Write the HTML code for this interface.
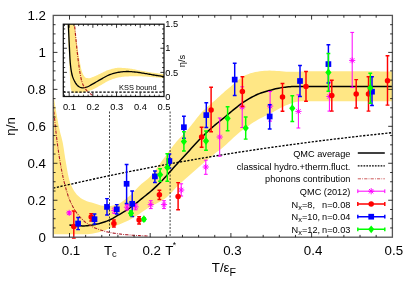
<!DOCTYPE html>
<html><head><meta charset="utf-8"><title>viscosity</title>
<style>html,body{margin:0;padding:0;background:#fff;overflow:hidden}svg{display:block;will-change:transform;opacity:0.999}</style></head>
<body>
<svg width="415" height="291" viewBox="0 0 415 291" font-family="Liberation Sans, sans-serif">
<rect width="415" height="291" fill="#fff"/>
<defs><clipPath id="cm"><rect x="53.25" y="15.40" width="339.15" height="221.80"/></clipPath>
<clipPath id="ci"><rect x="63.30" y="24.20" width="100.70" height="72.30"/></clipPath></defs>
<g clip-path="url(#cm)">
<path d="M53.25,92.00 L53.56,94.39 L53.88,96.78 L54.21,99.17 L54.56,101.56 L54.92,103.94 L55.28,106.33 L55.66,108.71 L56.05,111.08 L56.44,113.46 L56.85,115.84 L57.27,118.21 L57.71,120.59 L58.16,122.96 L58.62,125.32 L59.11,127.68 L59.61,130.04 L60.17,132.39 L60.78,134.72 L61.41,137.05 L62.01,139.39 L62.55,141.73 L63.00,144.10 L63.40,146.47 L63.78,148.85 L64.14,151.24 L64.49,153.63 L64.85,156.01 L65.22,158.40 L65.63,160.77 L66.04,163.16 L66.44,165.56 L66.84,167.96 L67.25,170.36 L67.69,172.75 L68.17,175.12 L68.69,177.46 L69.28,179.75 L69.96,182.01 L70.78,184.30 L71.76,186.58 L72.87,188.80 L74.11,190.91 L75.43,192.86 L76.89,194.64 L78.63,196.35 L80.58,197.92 L82.64,199.27 L84.72,200.33 L86.92,201.18 L89.23,201.90 L91.60,202.56 L93.96,203.20 L96.28,203.91 L98.59,204.71 L100.92,205.39 L103.27,205.71 L105.67,205.81 L108.10,205.88 L110.50,205.90 L112.89,205.58 L115.24,204.97 L117.52,204.20 L119.72,203.17 L121.79,201.98 L123.76,200.57 L125.66,199.06 L127.55,197.57 L129.41,196.02 L131.20,194.41 L132.90,192.71 L134.54,190.94 L136.16,189.14 L137.81,187.38 L139.53,185.70 L141.35,184.12 L143.25,182.60 L145.17,181.11 L147.04,179.58 L148.82,177.98 L150.46,176.27 L152.03,174.48 L153.53,172.62 L155.00,170.70 L156.42,168.74 L157.83,166.76 L159.22,164.77 L160.62,162.78 L162.02,160.80 L163.46,158.86 L164.89,156.92 L166.31,154.97 L167.74,153.03 L169.18,151.09 L170.63,149.17 L172.08,147.24 L173.54,145.32 L175.03,143.42 L176.57,141.57 L178.16,139.77 L179.81,138.01 L181.48,136.27 L183.16,134.54 L184.84,132.80 L186.48,131.03 L188.07,129.22 L189.62,127.37 L191.13,125.49 L192.62,123.58 L194.10,121.66 L195.58,119.74 L197.07,117.84 L198.59,115.96 L200.14,114.12 L201.73,112.34 L203.39,110.61 L205.12,108.96 L206.93,107.36 L208.77,105.78 L210.61,104.21 L212.42,102.62 L214.22,101.01 L216.00,99.39 L217.78,97.76 L219.57,96.13 L221.35,94.50 L223.14,92.89 L224.95,91.30 L226.77,89.72 L228.62,88.18 L230.48,86.63 L232.33,85.03 L234.19,83.38 L236.05,81.75 L237.94,80.15 L239.86,78.64 L241.82,77.26 L243.84,76.03 L245.91,75.00 L248.08,74.15 L250.35,73.37 L252.70,72.68 L255.09,72.10 L257.48,71.67 L259.85,71.37 L262.24,71.08 L264.65,70.85 L267.07,70.68 L269.48,70.60 L271.89,70.63 L274.29,70.73 L276.70,70.89 L279.11,71.08 L281.51,71.29 L283.92,71.48 L286.33,71.65 L288.74,71.76 L291.15,71.80 L293.55,71.78 L295.96,71.72 L298.37,71.65 L300.78,71.56 L303.19,71.47 L305.61,71.39 L308.02,71.33 L310.43,71.30 L312.84,71.28 L315.25,71.27 L317.66,71.25 L320.07,71.24 L322.48,71.23 L324.89,71.22 L327.30,71.21 L329.71,71.21 L332.13,71.20 L334.54,71.20 L336.95,71.20 L339.36,71.20 L341.77,71.20 L344.18,71.21 L346.59,71.21 L349.00,71.21 L351.41,71.22 L353.82,71.23 L356.24,71.24 L358.65,71.24 L361.06,71.25 L363.47,71.27 L365.88,71.28 L368.29,71.29 L370.70,71.31 L373.11,71.32 L375.52,71.34 L377.93,71.36 L380.35,71.38 L382.76,71.40 L385.17,71.42 L387.58,71.45 L389.99,71.47 L392.40,71.50 L392.40,101.20 L390.12,101.20 L387.85,101.20 L385.57,101.20 L383.30,101.20 L381.02,101.20 L378.74,101.20 L376.47,101.20 L374.19,101.20 L371.91,101.20 L369.64,101.20 L367.36,101.20 L365.09,101.20 L362.81,101.20 L360.53,101.20 L358.26,101.20 L355.98,101.20 L353.71,101.20 L351.43,101.20 L349.15,101.20 L346.88,101.20 L344.60,101.20 L342.32,101.20 L340.05,101.20 L337.77,101.20 L335.50,101.20 L333.22,101.20 L330.94,101.20 L328.67,101.20 L326.39,101.20 L324.11,101.20 L321.84,101.20 L319.56,101.20 L317.29,101.20 L315.01,101.20 L312.73,101.20 L310.46,101.20 L308.18,101.20 L305.91,101.20 L303.63,101.20 L301.35,101.26 L299.08,101.51 L296.80,101.87 L294.52,102.29 L292.25,102.90 L289.97,103.71 L287.70,104.64 L285.42,105.62 L283.14,106.65 L280.87,107.82 L278.59,109.06 L276.32,110.30 L274.04,111.49 L271.76,112.64 L269.49,113.76 L267.21,114.88 L264.93,116.01 L262.66,117.16 L260.38,118.36 L258.11,119.62 L255.83,120.96 L253.55,122.37 L251.28,123.85 L249.00,125.39 L246.72,126.99 L244.45,128.65 L242.17,130.35 L239.90,132.11 L237.62,133.95 L235.34,135.94 L233.07,138.04 L230.79,140.19 L228.52,142.35 L226.24,144.47 L223.96,146.51 L221.69,148.41 L219.41,150.16 L217.13,151.86 L214.86,153.61 L212.58,155.45 L210.31,157.32 L208.03,159.22 L205.75,161.15 L203.48,163.10 L201.20,165.07 L198.93,167.04 L196.65,169.03 L194.37,171.02 L192.10,173.02 L189.82,175.02 L187.54,177.03 L185.27,179.06 L182.99,181.12 L180.72,183.21 L178.44,185.33 L176.16,187.52 L173.89,189.91 L171.61,192.40 L169.33,194.81 L167.06,197.00 L164.78,198.80 L162.51,200.29 L160.23,201.60 L157.95,202.79 L155.68,203.93 L153.40,205.07 L151.13,206.27 L148.85,207.59 L146.57,209.03 L144.30,210.54 L142.02,212.09 L139.74,213.64 L137.47,215.16 L135.19,216.62 L132.92,217.99 L130.64,219.23 L128.36,220.39 L126.09,221.49 L123.81,222.53 L121.54,223.51 L119.26,224.42 L116.98,225.31 L114.71,226.21 L112.43,227.11 L110.15,228.02 L107.88,228.95 L105.60,229.91 L103.33,230.79 L101.05,231.55 L98.77,232.24 L96.50,232.83 L94.22,233.33 L91.94,233.76 L89.67,234.03 L87.39,234.19 L85.12,234.29 L82.84,234.30 L80.56,234.30 L78.29,234.30 L76.01,234.30 L73.74,234.30 L71.46,234.30 L69.18,234.30 L66.91,234.30 L64.63,234.30 L62.35,234.30 L60.08,234.30 L57.80,234.30 L55.53,234.30 L53.25,234.30Z" fill="#ffe785"/>
<path d="M69.40,225.00 L71.02,225.24 L72.65,225.46 L74.27,225.63 L75.89,225.76 L77.52,225.81 L79.14,225.85 L80.76,225.87 L82.38,225.89 L84.01,225.90 L85.63,225.85 L87.25,225.70 L88.88,225.50 L90.50,225.27 L92.12,225.03 L93.75,224.75 L95.37,224.42 L96.99,224.06 L98.62,223.68 L100.24,223.24 L101.86,222.76 L103.49,222.24 L105.11,221.69 L106.73,221.10 L108.35,220.46 L109.98,219.76 L111.60,219.00 L113.22,218.12 L114.85,217.14 L116.47,216.15 L118.09,215.21 L119.72,214.28 L121.34,213.36 L122.96,212.41 L124.59,211.43 L126.21,210.40 L127.83,209.31 L129.46,208.17 L131.08,206.99 L132.70,205.78 L134.32,204.56 L135.95,203.32 L137.57,202.05 L139.19,200.75 L140.82,199.44 L142.44,198.11 L144.06,196.79 L145.69,195.47 L147.31,194.15 L148.93,192.82 L150.56,191.46 L152.18,190.06 L153.80,188.61 L155.43,187.12 L157.05,185.60 L158.67,184.03 L160.29,182.43 L161.92,180.78 L163.54,179.06 L165.16,177.27 L166.79,175.44 L168.41,173.58 L170.03,171.72 L171.66,169.88 L173.28,168.08 L174.90,166.31 L176.53,164.56 L178.15,162.81 L179.77,161.07 L181.39,159.33 L183.02,157.58 L184.64,155.82 L186.26,154.05 L187.89,152.26 L189.51,150.44 L191.13,148.62 L192.76,146.81 L194.38,145.01 L196.00,143.24 L197.63,141.51 L199.25,139.83 L200.87,138.18 L202.50,136.55 L204.12,134.94 L205.74,133.35 L207.36,131.80 L208.99,130.28 L210.61,128.80 L212.23,127.35 L213.86,125.95 L215.48,124.60 L217.10,123.27 L218.73,121.96 L220.35,120.66 L221.97,119.36 L223.60,118.05 L225.22,116.72 L226.84,115.37 L228.47,114.01 L230.09,112.65 L231.71,111.29 L233.33,109.95 L234.96,108.63 L236.58,107.31 L238.20,105.99 L239.83,104.70 L241.45,103.51 L243.07,102.43 L244.70,101.38 L246.32,100.37 L247.94,99.38 L249.57,98.42 L251.19,97.50 L252.81,96.63 L254.44,95.80 L256.06,95.02 L257.68,94.30 L259.30,93.64 L260.93,93.03 L262.55,92.48 L264.17,91.97 L265.80,91.48 L267.42,91.02 L269.04,90.57 L270.67,90.11 L272.29,89.66 L273.91,89.23 L275.54,88.83 L277.16,88.49 L278.78,88.17 L280.41,87.87 L282.03,87.61 L283.65,87.37 L285.27,87.17 L286.90,86.98 L288.52,86.81 L290.14,86.66 L291.77,86.55 L293.39,86.49 L295.01,86.46 L296.64,86.43 L298.26,86.41 L299.88,86.40 L301.51,86.40 L303.13,86.40 L304.75,86.40 L306.37,86.40 L308.00,86.40 L309.62,86.40 L311.24,86.40 L312.87,86.40 L314.49,86.40 L316.11,86.40 L317.74,86.40 L319.36,86.40 L320.98,86.40 L322.61,86.40 L324.23,86.40 L325.85,86.40 L327.48,86.40 L329.10,86.40 L330.72,86.40 L332.34,86.40 L333.97,86.40 L335.59,86.40 L337.21,86.40 L338.84,86.40 L340.46,86.40 L342.08,86.40 L343.71,86.40 L345.33,86.40 L346.95,86.40 L348.58,86.40 L350.20,86.40 L351.82,86.40 L353.45,86.40 L355.07,86.40 L356.69,86.40 L358.31,86.40 L359.94,86.40 L361.56,86.40 L363.18,86.40 L364.81,86.40 L366.43,86.40 L368.05,86.40 L369.68,86.40 L371.30,86.40 L372.92,86.40 L374.55,86.40 L376.17,86.40 L377.79,86.40 L379.42,86.40 L381.04,86.40 L382.66,86.40 L384.28,86.40 L385.91,86.40 L387.53,86.40 L389.15,86.40 L390.78,86.40 L392.40,86.40" fill="none" stroke="#000" stroke-width="1.5"/>
<path d="M53.25,188.21 L57.54,187.20 L61.84,186.20 L66.13,185.21 L70.42,184.23 L74.72,183.26 L79.01,182.29 L83.30,181.34 L87.59,180.39 L91.89,179.45 L96.18,178.52 L100.47,177.60 L104.77,176.69 L109.06,175.78 L113.35,174.89 L117.65,174.00 L121.94,173.12 L126.23,172.25 L130.52,171.39 L134.82,170.53 L139.11,169.69 L143.40,168.85 L147.70,168.02 L151.99,167.20 L156.28,166.38 L160.58,165.58 L164.87,164.78 L169.16,163.99 L173.46,163.21 L177.75,162.43 L182.04,161.66 L186.33,160.91 L190.63,160.15 L194.92,159.41 L199.21,158.67 L203.51,157.95 L207.80,157.22 L212.09,156.51 L216.39,155.80 L220.68,155.10 L224.97,154.41 L229.26,153.73 L233.56,153.05 L237.85,152.38 L242.14,151.72 L246.44,151.06 L250.73,150.41 L255.02,149.77 L259.32,149.14 L263.61,148.51 L267.90,147.89 L272.19,147.27 L276.49,146.66 L280.78,146.06 L285.07,145.47 L289.37,144.88 L293.66,144.30 L297.95,143.73 L302.25,143.16 L306.54,142.60 L310.83,142.04 L315.13,141.49 L319.42,140.95 L323.71,140.42 L328.00,139.89 L332.30,139.36 L336.59,138.85 L340.88,138.33 L345.18,137.83 L349.47,137.33 L353.76,136.84 L358.06,136.35 L362.35,135.87 L366.64,135.39 L370.93,134.93 L375.23,134.46 L379.52,134.00 L383.81,133.55 L388.11,133.10 L392.40,132.66" fill="none" stroke="#000" stroke-width="1.35" stroke-dasharray="2.2,1.5"/>
<path d="M51.75,85.96 L52.56,96.45 L53.37,106.10 L54.19,114.98 L55.00,123.16 L55.81,130.70 L56.63,137.66 L57.44,144.09 L58.26,150.04 L59.07,155.54 L59.88,160.64 L60.70,165.37 L61.51,169.76 L62.33,173.83 L63.14,177.62 L63.95,181.15 L64.77,184.43 L65.58,187.48 L66.39,190.33 L67.21,192.99 L68.02,195.48 L68.84,197.80 L69.65,199.97 L70.46,201.82 L71.28,203.57 L72.09,205.21 L72.90,206.76 L73.72,208.22 L74.53,209.59 L75.35,210.89 L76.16,212.12 L76.97,213.28 L77.79,214.37 L78.60,215.41 L79.41,216.39 L80.23,217.32 L81.04,218.19 L81.86,219.03 L82.67,219.82 L83.48,220.56 L84.30,221.28 L85.11,221.95 L85.92,222.59 L86.74,223.20 L87.55,223.78 L88.37,224.33 L89.18,224.85 L89.99,225.35 L90.81,225.82 L91.62,226.28 L92.44,226.71 L93.25,227.12 L94.06,227.51 L94.88,227.88 L95.69,228.24 L96.50,228.58 L97.32,228.90 L98.13,229.21 L98.95,229.51 L99.76,229.79 L100.57,230.06 L101.39,230.32 L102.20,230.57 L103.01,230.81 L103.83,231.04 L104.64,231.25 L105.46,231.46 L106.27,231.66 L107.08,231.85 L107.90,232.04 L108.71,232.21 L109.52,232.38 L110.34,232.54 L111.15,232.70 L111.97,232.85 L112.78,232.99 L113.59,233.13 L114.41,233.26 L115.22,233.39 L116.03,233.51 L116.85,233.63 L117.66,233.75 L118.48,233.85 L119.29,233.96 L120.10,234.06 L120.92,234.16 L121.73,234.25 L122.54,234.34 L123.36,234.43 L124.17,234.51 L124.99,234.59 L125.80,234.67 L126.61,234.75 L127.43,234.82 L128.24,234.89 L129.06,234.96 L129.87,235.02 L130.68,235.09 L131.50,235.15 L132.31,235.21 L133.12,235.26 L133.94,235.32 L134.75,235.37 L135.57,235.42 L136.38,235.47 L137.19,235.52 L138.01,235.56 L138.82,235.61 L139.63,235.65 L140.45,235.69 L141.26,235.73 L142.08,235.77 L142.89,235.81 L143.70,235.85 L144.52,235.88 L145.33,235.92 L146.14,235.95 L146.96,235.98 L147.77,236.02 L148.59,236.05" fill="none" stroke="#ac1c28" stroke-width="1.1" stroke-dasharray="3.2,1.2,0.8,1.2"/>
</g>
<path d="M109.5,111.5V237 M170.1,111.5V237" stroke="#111" stroke-width="0.8" stroke-dasharray="2,1.5" fill="none"/>
<g>
<path d="M69.20,211.60V214.20 M67.30,211.60H71.10 M67.30,214.20H71.10" stroke="#ff00ff" stroke-width="1.00" fill="none"/>
<path d="M69.20,209.80V216.00 M66.10,212.90H72.30 M67.01,210.71L71.39,215.09 M67.01,215.09L71.39,210.71" stroke="#ff00ff" stroke-width="0.95" fill="none"/>
<path d="M114.40,208.00V213.50 M112.50,208.00H116.30 M112.50,213.50H116.30" stroke="#ff00ff" stroke-width="1.00" fill="none"/>
<path d="M114.40,207.50V213.70 M111.30,210.60H117.50 M112.21,208.41L116.59,212.79 M112.21,212.79L116.59,208.41" stroke="#ff00ff" stroke-width="0.95" fill="none"/>
<path d="M127.00,204.50V210.00 M125.10,204.50H128.90 M125.10,210.00H128.90" stroke="#ff00ff" stroke-width="1.00" fill="none"/>
<path d="M127.00,204.10V210.30 M123.90,207.20H130.10 M124.81,205.01L129.19,209.39 M124.81,209.39L129.19,205.01" stroke="#ff00ff" stroke-width="0.95" fill="none"/>
<path d="M135.60,204.00V209.80 M133.70,204.00H137.50 M133.70,209.80H137.50" stroke="#ff00ff" stroke-width="1.00" fill="none"/>
<path d="M135.60,203.80V210.00 M132.50,206.90H138.70 M133.41,204.71L137.79,209.09 M133.41,209.09L137.79,204.71" stroke="#ff00ff" stroke-width="0.95" fill="none"/>
<path d="M150.80,200.70V208.60 M148.90,200.70H152.70 M148.90,208.60H152.70" stroke="#ff00ff" stroke-width="1.00" fill="none"/>
<path d="M150.80,201.50V207.70 M147.70,204.60H153.90 M148.61,202.41L152.99,206.79 M148.61,206.79L152.99,202.41" stroke="#ff00ff" stroke-width="0.95" fill="none"/>
<path d="M164.00,200.70V208.60 M162.10,200.70H165.90 M162.10,208.60H165.90" stroke="#ff00ff" stroke-width="1.00" fill="none"/>
<path d="M164.00,201.50V207.70 M160.90,204.60H167.10 M161.81,202.41L166.19,206.79 M161.81,206.79L166.19,202.41" stroke="#ff00ff" stroke-width="0.95" fill="none"/>
<path d="M181.20,183.80V196.00 M179.30,183.80H183.10 M179.30,196.00H183.10" stroke="#ff00ff" stroke-width="1.00" fill="none"/>
<path d="M181.20,186.90V193.10 M178.10,190.00H184.30 M179.01,187.81L183.39,192.19 M179.01,192.19L183.39,187.81" stroke="#ff00ff" stroke-width="0.95" fill="none"/>
<path d="M205.80,160.20V174.30 M203.90,160.20H207.70 M203.90,174.30H207.70" stroke="#ff00ff" stroke-width="1.00" fill="none"/>
<path d="M205.80,163.90V170.10 M202.70,167.00H208.90 M203.61,164.81L207.99,169.19 M203.61,169.19L207.99,164.81" stroke="#ff00ff" stroke-width="0.95" fill="none"/>
<path d="M219.70,118.00V156.20 M217.80,118.00H221.60 M217.80,156.20H221.60" stroke="#ff00ff" stroke-width="1.00" fill="none"/>
<path d="M219.70,133.90V140.10 M216.60,137.00H222.80 M217.51,134.81L221.89,139.19 M217.51,139.19L221.89,134.81" stroke="#ff00ff" stroke-width="0.95" fill="none"/>
<path d="M242.20,86.80V127.50 M240.30,86.80H244.10 M240.30,127.50H244.10" stroke="#ff00ff" stroke-width="1.00" fill="none"/>
<path d="M242.20,103.90V110.10 M239.10,107.00H245.30 M240.01,104.81L244.39,109.19 M240.01,109.19L244.39,104.81" stroke="#ff00ff" stroke-width="0.95" fill="none"/>
<path d="M270.10,91.50V121.10 M268.20,91.50H272.00 M268.20,121.10H272.00" stroke="#ff00ff" stroke-width="1.00" fill="none"/>
<path d="M270.10,103.00V109.20 M267.00,106.10H273.20 M267.91,103.91L272.29,108.29 M267.91,108.29L272.29,103.91" stroke="#ff00ff" stroke-width="0.95" fill="none"/>
<path d="M298.40,94.80V128.00 M296.50,94.80H300.30 M296.50,128.00H300.30" stroke="#ff00ff" stroke-width="1.00" fill="none"/>
<path d="M298.40,108.30V114.50 M295.30,111.40H301.50 M296.21,109.21L300.59,113.59 M296.21,113.59L300.59,109.21" stroke="#ff00ff" stroke-width="0.95" fill="none"/>
<path d="M329.40,82.00V111.10 M327.50,82.00H331.30 M327.50,111.10H331.30" stroke="#ff00ff" stroke-width="1.00" fill="none"/>
<path d="M329.40,93.40V99.60 M326.30,96.50H332.50 M327.21,94.31L331.59,98.69 M327.21,98.69L331.59,94.31" stroke="#ff00ff" stroke-width="0.95" fill="none"/>
<path d="M352.20,32.40V87.40 M350.30,32.40H354.10 M350.30,87.40H354.10" stroke="#ff00ff" stroke-width="1.00" fill="none"/>
<path d="M352.20,57.30V63.50 M349.10,60.40H355.30 M350.01,58.21L354.39,62.59 M350.01,62.59L354.39,58.21" stroke="#ff00ff" stroke-width="0.95" fill="none"/>
</g>
<g>
<path d="M73.80,211.00V237.90 M71.90,211.00H75.70 M71.90,237.90H75.70" stroke="#ff0000" stroke-width="1.45" fill="none"/>
<circle cx="73.80" cy="226.60" r="2.75" fill="#ff0000"/>
<path d="M91.20,213.60V221.00 M89.30,213.60H93.10 M89.30,221.00H93.10" stroke="#ff0000" stroke-width="1.45" fill="none"/>
<circle cx="91.20" cy="217.00" r="2.75" fill="#ff0000"/>
<path d="M113.90,220.00V227.00 M112.00,220.00H115.80 M112.00,227.00H115.80" stroke="#ff0000" stroke-width="1.45" fill="none"/>
<circle cx="113.90" cy="223.50" r="2.75" fill="#ff0000"/>
<path d="M139.10,216.70V223.90 M137.20,216.70H141.00 M137.20,223.90H141.00" stroke="#ff0000" stroke-width="1.45" fill="none"/>
<circle cx="139.10" cy="220.10" r="2.75" fill="#ff0000"/>
<path d="M159.40,190.20V199.50 M157.50,190.20H161.30 M157.50,199.50H161.30" stroke="#ff0000" stroke-width="1.45" fill="none"/>
<circle cx="159.40" cy="194.80" r="2.75" fill="#ff0000"/>
<path d="M178.10,182.60V209.80 M176.20,182.60H180.00 M176.20,209.80H180.00" stroke="#ff0000" stroke-width="1.45" fill="none"/>
<circle cx="178.10" cy="196.50" r="2.75" fill="#ff0000"/>
<path d="M201.60,127.20V147.20 M199.70,127.20H203.50 M199.70,147.20H203.50" stroke="#ff0000" stroke-width="1.45" fill="none"/>
<circle cx="201.60" cy="137.00" r="2.75" fill="#ff0000"/>
<path d="M211.10,87.30V131.80 M209.20,87.30H213.00 M209.20,131.80H213.00" stroke="#ff0000" stroke-width="1.45" fill="none"/>
<circle cx="211.10" cy="110.00" r="2.75" fill="#ff0000"/>
<path d="M242.40,76.80V106.50 M240.50,76.80H244.30 M240.50,106.50H244.30" stroke="#ff0000" stroke-width="1.45" fill="none"/>
<circle cx="242.40" cy="91.60" r="2.75" fill="#ff0000"/>
<path d="M282.50,83.40V111.30 M280.60,83.40H284.40 M280.60,111.30H284.40" stroke="#ff0000" stroke-width="1.45" fill="none"/>
<circle cx="282.50" cy="97.00" r="2.75" fill="#ff0000"/>
<path d="M306.00,71.40V101.30 M304.10,71.40H307.90 M304.10,101.30H307.90" stroke="#ff0000" stroke-width="1.45" fill="none"/>
<circle cx="306.00" cy="86.50" r="2.75" fill="#ff0000"/>
<path d="M331.80,80.20V111.10 M329.90,80.20H333.70 M329.90,111.10H333.70" stroke="#ff0000" stroke-width="1.45" fill="none"/>
<circle cx="331.80" cy="95.60" r="2.75" fill="#ff0000"/>
<path d="M356.20,79.60V108.00 M354.30,79.60H358.10 M354.30,108.00H358.10" stroke="#ff0000" stroke-width="1.45" fill="none"/>
<circle cx="356.20" cy="93.90" r="2.75" fill="#ff0000"/>
<path d="M368.50,76.70V111.10 M366.60,76.70H370.40 M366.60,111.10H370.40" stroke="#ff0000" stroke-width="1.45" fill="none"/>
<circle cx="368.50" cy="93.90" r="2.75" fill="#ff0000"/>
<path d="M387.50,55.80V105.10 M385.60,55.80H389.40 M385.60,105.10H389.40" stroke="#ff0000" stroke-width="1.45" fill="none"/>
<circle cx="387.50" cy="80.80" r="2.75" fill="#ff0000"/>
</g>
<g>
<path d="M78.10,217.50V229.60 M76.20,217.50H80.00 M76.20,229.60H80.00" stroke="#0000ff" stroke-width="1.45" fill="none"/>
<rect x="75.25" y="220.65" width="5.70" height="5.70" fill="#0000ff"/>
<path d="M94.50,214.00V224.00 M92.60,214.00H96.40 M92.60,224.00H96.40" stroke="#0000ff" stroke-width="1.45" fill="none"/>
<rect x="91.65" y="216.35" width="5.70" height="5.70" fill="#0000ff"/>
<path d="M107.00,198.60V215.00 M105.10,198.60H108.90 M105.10,215.00H108.90" stroke="#0000ff" stroke-width="1.45" fill="none"/>
<rect x="104.15" y="204.05" width="5.70" height="5.70" fill="#0000ff"/>
<path d="M116.80,204.60V214.00 M114.90,204.60H118.70 M114.90,214.00H118.70" stroke="#0000ff" stroke-width="1.45" fill="none"/>
<rect x="113.95" y="206.45" width="5.70" height="5.70" fill="#0000ff"/>
<path d="M126.60,164.40V203.50 M124.70,164.40H128.50 M124.70,203.50H128.50" stroke="#0000ff" stroke-width="1.45" fill="none"/>
<rect x="123.75" y="180.95" width="5.70" height="5.70" fill="#0000ff"/>
<path d="M132.20,191.00V216.50 M130.30,191.00H134.10 M130.30,216.50H134.10" stroke="#0000ff" stroke-width="1.45" fill="none"/>
<rect x="129.35" y="200.95" width="5.70" height="5.70" fill="#0000ff"/>
<path d="M154.90,170.90V182.40 M153.00,170.90H156.80 M153.00,182.40H156.80" stroke="#0000ff" stroke-width="1.45" fill="none"/>
<rect x="152.05" y="173.55" width="5.70" height="5.70" fill="#0000ff"/>
<path d="M169.40,154.00V168.00 M167.50,154.00H171.30 M167.50,168.00H171.30" stroke="#0000ff" stroke-width="1.45" fill="none"/>
<rect x="166.55" y="158.15" width="5.70" height="5.70" fill="#0000ff"/>
<path d="M183.90,116.30V138.20 M182.00,116.30H185.80 M182.00,138.20H185.80" stroke="#0000ff" stroke-width="1.45" fill="none"/>
<rect x="181.05" y="124.35" width="5.70" height="5.70" fill="#0000ff"/>
<path d="M206.30,102.80V127.50 M204.40,102.80H208.20 M204.40,127.50H208.20" stroke="#0000ff" stroke-width="1.45" fill="none"/>
<rect x="203.45" y="112.25" width="5.70" height="5.70" fill="#0000ff"/>
<path d="M234.70,63.30V95.40 M232.80,63.30H236.60 M232.80,95.40H236.60" stroke="#0000ff" stroke-width="1.45" fill="none"/>
<rect x="231.85" y="76.75" width="5.70" height="5.70" fill="#0000ff"/>
<path d="M269.70,104.80V128.90 M267.80,104.80H271.60 M267.80,128.90H271.60" stroke="#0000ff" stroke-width="1.45" fill="none"/>
<rect x="266.85" y="113.65" width="5.70" height="5.70" fill="#0000ff"/>
<path d="M300.00,65.50V96.50 M298.10,65.50H301.90 M298.10,96.50H301.90" stroke="#0000ff" stroke-width="1.45" fill="none"/>
<rect x="297.15" y="78.15" width="5.70" height="5.70" fill="#0000ff"/>
<path d="M328.40,44.80V83.00 M326.50,44.80H330.30 M326.50,83.00H330.30" stroke="#0000ff" stroke-width="1.45" fill="none"/>
<rect x="325.55" y="61.25" width="5.70" height="5.70" fill="#0000ff"/>
<path d="M372.00,76.70V105.40 M370.10,76.70H373.90 M370.10,105.40H373.90" stroke="#0000ff" stroke-width="1.45" fill="none"/>
<rect x="369.15" y="88.85" width="5.70" height="5.70" fill="#0000ff"/>
</g>
<g>
<path d="M131.00,211.00V215.50 M129.10,211.00H132.90 M129.10,215.50H132.90" stroke="#00ff00" stroke-width="1.45" fill="none"/>
<path d="M131.00,209.30L134.10,213.20L131.00,217.10L127.90,213.20Z" fill="#00ff00"/>
<path d="M143.90,217.60V220.80 M142.00,217.60H145.80 M142.00,220.80H145.80" stroke="#00ff00" stroke-width="1.45" fill="none"/>
<path d="M143.90,215.30L147.00,219.20L143.90,223.10L140.80,219.20Z" fill="#00ff00"/>
<path d="M160.10,168.70V181.20 M158.20,168.70H162.00 M158.20,181.20H162.00" stroke="#00ff00" stroke-width="1.45" fill="none"/>
<path d="M160.10,170.80L163.20,174.70L160.10,178.60L157.00,174.70Z" fill="#00ff00"/>
<path d="M167.30,153.70V181.20 M165.40,153.70H169.20 M165.40,181.20H169.20" stroke="#00ff00" stroke-width="1.45" fill="none"/>
<path d="M167.30,163.60L170.40,167.50L167.30,171.40L164.20,167.50Z" fill="#00ff00"/>
<path d="M183.90,131.80V151.00 M182.00,131.80H185.80 M182.00,151.00H185.80" stroke="#00ff00" stroke-width="1.45" fill="none"/>
<path d="M183.90,137.70L187.00,141.60L183.90,145.50L180.80,141.60Z" fill="#00ff00"/>
<path d="M206.00,131.00V150.20 M204.10,131.00H207.90 M204.10,150.20H207.90" stroke="#00ff00" stroke-width="1.45" fill="none"/>
<path d="M206.00,137.10L209.10,141.00L206.00,144.90L202.90,141.00Z" fill="#00ff00"/>
<path d="M227.60,106.80V130.80 M225.70,106.80H229.50 M225.70,130.80H229.50" stroke="#00ff00" stroke-width="1.45" fill="none"/>
<path d="M227.60,114.50L230.70,118.40L227.60,122.30L224.50,118.40Z" fill="#00ff00"/>
<path d="M245.70,117.00V139.10 M243.80,117.00H247.60 M243.80,139.10H247.60" stroke="#00ff00" stroke-width="1.45" fill="none"/>
<path d="M245.70,124.20L248.80,128.10L245.70,132.00L242.60,128.10Z" fill="#00ff00"/>
<path d="M292.30,95.70V121.40 M290.40,95.70H294.20 M290.40,121.40H294.20" stroke="#00ff00" stroke-width="1.45" fill="none"/>
<path d="M292.30,104.40L295.40,108.30L292.30,112.20L289.20,108.30Z" fill="#00ff00"/>
<path d="M328.40,53.40V91.30 M326.50,53.40H330.30 M326.50,91.30H330.30" stroke="#00ff00" stroke-width="1.45" fill="none"/>
<path d="M328.40,68.50L331.50,72.40L328.40,76.30L325.30,72.40Z" fill="#00ff00"/>
<path d="M370.30,73.30V103.20 M368.40,73.30H372.20 M368.40,103.20H372.20" stroke="#00ff00" stroke-width="1.45" fill="none"/>
<path d="M370.30,84.00L373.40,87.90L370.30,91.80L367.20,87.90Z" fill="#00ff00"/>
</g>
<rect x="53.25" y="15.40" width="339.15" height="221.80" fill="none" stroke="#555" stroke-width="1.3"/>
<path d="M69.50,237.20v-4.20 M69.50,15.40v4.20 M85.64,237.20v-2.30 M85.64,15.40v2.30 M101.78,237.20v-2.30 M101.78,15.40v2.30 M117.92,237.20v-2.30 M117.92,15.40v2.30 M134.06,237.20v-2.30 M134.06,15.40v2.30 M150.20,237.20v-4.20 M150.20,15.40v4.20 M166.34,237.20v-2.30 M166.34,15.40v2.30 M182.48,237.20v-2.30 M182.48,15.40v2.30 M198.62,237.20v-2.30 M198.62,15.40v2.30 M214.76,237.20v-2.30 M214.76,15.40v2.30 M230.90,237.20v-4.20 M230.90,15.40v4.20 M247.04,237.20v-2.30 M247.04,15.40v2.30 M263.18,237.20v-2.30 M263.18,15.40v2.30 M279.32,237.20v-2.30 M279.32,15.40v2.30 M295.46,237.20v-2.30 M295.46,15.40v2.30 M311.60,237.20v-4.20 M311.60,15.40v4.20 M327.74,237.20v-2.30 M327.74,15.40v2.30 M343.88,237.20v-2.30 M343.88,15.40v2.30 M360.02,237.20v-2.30 M360.02,15.40v2.30 M376.16,237.20v-2.30 M376.16,15.40v2.30 M53.25,227.96h2.30 M392.40,227.96h-2.30 M53.25,218.72h2.30 M392.40,218.72h-2.30 M53.25,209.48h2.30 M392.40,209.48h-2.30 M53.25,200.24h4.20 M392.40,200.24h-4.20 M53.25,191.00h2.30 M392.40,191.00h-2.30 M53.25,181.76h2.30 M392.40,181.76h-2.30 M53.25,172.52h2.30 M392.40,172.52h-2.30 M53.25,163.28h4.20 M392.40,163.28h-4.20 M53.25,154.04h2.30 M392.40,154.04h-2.30 M53.25,144.80h2.30 M392.40,144.80h-2.30 M53.25,135.56h2.30 M392.40,135.56h-2.30 M53.25,126.32h4.20 M392.40,126.32h-4.20 M53.25,117.08h2.30 M392.40,117.08h-2.30 M53.25,107.84h2.30 M392.40,107.84h-2.30 M53.25,98.60h2.30 M392.40,98.60h-2.30 M53.25,89.36h4.20 M392.40,89.36h-4.20 M53.25,80.12h2.30 M392.40,80.12h-2.30 M53.25,70.88h2.30 M392.40,70.88h-2.30 M53.25,61.64h2.30 M392.40,61.64h-2.30 M53.25,52.40h4.20 M392.40,52.40h-4.20 M53.25,43.16h2.30 M392.40,43.16h-2.30 M53.25,33.92h2.30 M392.40,33.92h-2.30 M53.25,24.68h2.30 M392.40,24.68h-2.30" stroke="#000" stroke-width="0.8" fill="none"/>
<text x="45.9" y="241.95" font-size="13.3" text-anchor="end">0</text>
<text x="45.9" y="204.99" font-size="13.3" text-anchor="end">0.2</text>
<text x="45.9" y="168.03" font-size="13.3" text-anchor="end">0.4</text>
<text x="45.9" y="131.07" font-size="13.3" text-anchor="end">0.6</text>
<text x="45.9" y="94.11" font-size="13.3" text-anchor="end">0.8</text>
<text x="45.9" y="57.15" font-size="13.3" text-anchor="end">1</text>
<text x="45.9" y="20.19" font-size="13.3" text-anchor="end">1.2</text>
<text x="71.00" y="254.6" font-size="13.3" text-anchor="middle">0.1</text>
<text x="151.70" y="254.6" font-size="13.3" text-anchor="middle">0.2</text>
<text x="232.40" y="254.6" font-size="13.3" text-anchor="middle">0.3</text>
<text x="313.10" y="254.6" font-size="13.3" text-anchor="middle">0.4</text>
<text x="393.80" y="254.6" font-size="13.3" text-anchor="middle">0.5</text>
<text x="103.9" y="254.6" font-size="13.3">T<tspan font-size="9.3" dy="2.6">c</tspan></text>
<text x="165.3" y="254.6" font-size="13.3">T<tspan font-size="8.6" dx="-0.6" dy="-6.8">*</tspan></text>
<text x="211.8" y="272.3" font-size="13.3">T/&#949;<tspan font-size="10.6" dy="3.8">F</tspan></text>
<text transform="translate(14.9,126.4) rotate(-90)" font-size="13.3" text-anchor="middle">&#951;/n</text>
<text x="350.4" y="156.60" font-size="9.2" text-anchor="end">QMC average</text>
<text x="350.4" y="169.50" font-size="9.2" text-anchor="end">classical hydro.+therm.fluct.</text>
<text x="350.4" y="182.40" font-size="9.2" text-anchor="end">phonons contribution</text>
<text x="350.4" y="194.80" font-size="9.2" text-anchor="end">QMC (2012)</text>
<text x="350.4" y="207.60" font-size="9.2" text-anchor="end">n=0.08</text>
<text x="291.6" y="207.60" font-size="9.2">N<tspan font-size="7.4" dy="2">x</tspan><tspan dy="-2">=8,</tspan></text>
<text x="350.4" y="220.30" font-size="9.2" text-anchor="end">n=0.04</text>
<text x="291.6" y="220.30" font-size="9.2">N<tspan font-size="7.4" dy="2">x</tspan><tspan dy="-2">=10,</tspan></text>
<text x="350.4" y="232.90" font-size="9.2" text-anchor="end">n=0.03</text>
<text x="291.6" y="232.90" font-size="9.2">N<tspan font-size="7.4" dy="2">x</tspan><tspan dy="-2">=12,</tspan></text>
<path d="M357.8,153.00H384.8" stroke="#000" stroke-width="1.5"/>
<path d="M357.8,165.90H384.8" stroke="#000" stroke-width="1.3" stroke-dasharray="1.7,1.15"/>
<path d="M357.8,178.80H384.8" stroke="#c03030" stroke-width="0.8" stroke-dasharray="3.2,1.2,0.8,1.2"/>
<path d="M357.8,191.20H384.8 M357.8,189.30v3.80 M384.8,189.30v3.80" stroke="#ff00ff" stroke-width="1.00" fill="none"/>
<path d="M371.20,188.10V194.30 M368.10,191.20H374.30 M369.01,189.01L373.39,193.39 M369.01,193.39L373.39,189.01" stroke="#ff00ff" stroke-width="0.95" fill="none"/>
<path d="M357.8,204.00H384.8 M357.8,202.10v3.80 M384.8,202.10v3.80" stroke="#ff0000" stroke-width="1.45" fill="none"/>
<circle cx="371.20" cy="204.00" r="2.75" fill="#ff0000"/>
<path d="M357.8,216.70H384.8 M357.8,214.80v3.80 M384.8,214.80v3.80" stroke="#0000ff" stroke-width="1.45" fill="none"/>
<rect x="368.35" y="213.85" width="5.70" height="5.70" fill="#0000ff"/>
<path d="M357.8,229.30H384.8 M357.8,227.40v3.80 M384.8,227.40v3.80" stroke="#00ff00" stroke-width="1.45" fill="none"/>
<path d="M371.20,225.40L374.30,229.30L371.20,233.20L368.10,229.30Z" fill="#00ff00"/>
<rect x="63.30" y="24.20" width="100.70" height="72.30" fill="#fff"/>
<g clip-path="url(#ci)">
<path d="M73.60,20.00 L73.80,20.92 L73.99,21.85 L74.18,22.77 L74.35,23.70 L74.50,24.63 L74.65,25.56 L74.79,26.49 L74.93,27.42 L75.06,28.35 L75.19,29.29 L75.31,30.22 L75.43,31.16 L75.55,32.09 L75.66,33.03 L75.78,33.97 L75.89,34.90 L76.00,35.84 L76.12,36.78 L76.24,37.71 L76.35,38.65 L76.47,39.59 L76.60,40.52 L76.72,41.46 L76.86,42.39 L76.99,43.32 L77.12,44.26 L77.25,45.19 L77.38,46.13 L77.51,47.06 L77.64,48.00 L77.77,48.93 L77.90,49.87 L78.04,50.80 L78.17,51.73 L78.31,52.67 L78.45,53.60 L78.59,54.53 L78.74,55.46 L78.89,56.39 L79.04,57.32 L79.19,58.25 L79.35,59.18 L79.52,60.11 L79.68,61.04 L79.85,61.97 L80.01,62.91 L80.18,63.85 L80.35,64.79 L80.53,65.72 L80.72,66.66 L80.91,67.58 L81.12,68.50 L81.35,69.42 L81.59,70.32 L81.85,71.21 L82.13,72.08 L82.45,72.97 L82.83,73.87 L83.26,74.75 L83.74,75.58 L84.27,76.33 L84.88,77.01 L85.64,77.67 L86.48,78.01 L87.39,78.12 L88.36,78.19 L89.30,78.19 L90.22,78.02 L91.13,77.72 L92.03,77.37 L92.91,77.05 L93.79,76.72 L94.65,76.35 L95.51,75.96 L96.36,75.55 L97.21,75.13 L98.06,74.72 L98.92,74.30 L99.77,73.90 L100.63,73.51 L101.49,73.10 L102.34,72.68 L103.19,72.25 L104.04,71.83 L104.90,71.41 L105.75,71.00 L106.61,70.61 L107.48,70.25 L108.36,69.92 L109.24,69.63 L110.13,69.38 L111.04,69.13 L111.95,68.87 L112.87,68.63 L113.80,68.40 L114.73,68.20 L115.67,68.03 L116.60,67.90 L117.54,67.82 L118.48,67.80 L119.41,67.81 L120.35,67.83 L121.30,67.86 L122.24,67.90 L123.19,67.95 L124.13,68.01 L125.08,68.07 L126.02,68.13 L126.96,68.20 L127.89,68.28 L128.82,68.38 L129.75,68.50 L130.68,68.65 L131.61,68.81 L132.54,68.99 L133.47,69.17 L134.39,69.36 L135.32,69.56 L136.25,69.76 L137.17,69.95 L138.10,70.14 L139.03,70.32 L139.96,70.49 L140.88,70.66 L141.81,70.83 L142.74,71.00 L143.67,71.17 L144.60,71.34 L145.52,71.51 L146.45,71.68 L147.38,71.85 L148.31,72.01 L149.24,72.17 L150.17,72.32 L151.10,72.47 L152.03,72.60 L152.96,72.74 L153.90,72.87 L154.83,73.00 L155.77,73.12 L156.70,73.25 L157.64,73.36 L158.57,73.48 L159.51,73.59 L160.45,73.70 L161.38,73.81 L162.32,73.91 L163.26,74.01 L164.20,74.10 L164.20,78.10 L163.08,78.00 L161.96,77.90 L160.83,77.80 L159.71,77.71 L158.59,77.62 L157.47,77.52 L156.35,77.43 L155.22,77.34 L154.10,77.26 L152.98,77.17 L151.86,77.09 L150.73,77.00 L149.61,76.90 L148.49,76.81 L147.36,76.71 L146.24,76.61 L145.12,76.52 L143.99,76.44 L142.87,76.38 L141.75,76.33 L140.62,76.30 L139.50,76.30 L138.37,76.30 L137.25,76.30 L136.12,76.31 L134.99,76.31 L133.86,76.32 L132.74,76.33 L131.61,76.34 L130.48,76.35 L129.36,76.37 L128.23,76.38 L127.11,76.40 L125.99,76.44 L124.87,76.52 L123.74,76.63 L122.62,76.78 L121.50,76.96 L120.39,77.15 L119.28,77.36 L118.18,77.57 L117.09,77.79 L116.00,78.07 L114.91,78.38 L113.83,78.73 L112.76,79.11 L111.70,79.51 L110.65,79.92 L109.61,80.34 L108.59,80.78 L107.59,81.27 L106.59,81.79 L105.61,82.34 L104.63,82.90 L103.65,83.48 L102.68,84.06 L101.70,84.63 L100.72,85.20 L99.74,85.75 L98.76,86.31 L97.78,86.89 L96.81,87.48 L95.83,88.05 L94.85,88.60 L93.85,89.11 L92.83,89.57 L91.80,89.96 L90.74,90.34 L89.68,90.70 L88.59,91.04 L87.50,91.35 L86.41,91.64 L85.31,91.90 L84.21,92.14 L83.10,92.36 L81.99,92.59 L80.88,92.75 L79.76,92.80 L78.62,92.80 L77.48,92.80 L76.35,92.80 L75.24,92.80 L74.09,92.68 L72.87,92.25 L71.96,91.67 L71.51,90.99 L71.17,90.01 L70.90,88.83 L70.69,87.57 L70.54,86.35 L70.43,85.24 L70.33,84.12 L70.25,83.00 L70.18,81.87 L70.12,80.75 L70.07,79.62 L70.02,78.49 L69.97,77.36 L69.91,76.24 L69.86,75.11 L69.80,73.99 L69.75,72.86 L69.70,71.74 L69.65,70.61 L69.60,69.49 L69.56,68.36 L69.51,67.24 L69.47,66.11 L69.42,64.99 L69.37,63.86 L69.33,62.74 L69.28,61.61 L69.22,60.49 L69.17,59.36 L69.11,58.24 L69.05,57.11 L68.99,55.99 L68.93,54.87 L68.87,53.74 L68.81,52.62 L68.74,51.49 L68.68,50.37 L68.62,49.24 L68.56,48.12 L68.50,47.00 L68.44,45.87 L68.39,44.75 L68.34,43.62 L68.28,42.50 L68.23,41.37 L68.19,40.25 L68.14,39.12 L68.09,38.00 L68.04,36.87 L68.00,35.75 L67.95,34.62 L67.91,33.50 L67.86,32.37 L67.82,31.25 L67.77,30.12 L67.72,29.00 L67.67,27.87 L67.62,26.75 L67.57,25.62 L67.52,24.50 L67.47,23.37 L67.41,22.25 L67.36,21.12 L67.30,20.00Z" fill="#ffe785"/>
<path d="M68.10,20.00 L68.15,21.06 L68.21,22.12 L68.26,23.18 L68.31,24.24 L68.36,25.31 L68.41,26.37 L68.47,27.43 L68.52,28.49 L68.57,29.55 L68.62,30.61 L68.67,31.67 L68.71,32.73 L68.76,33.79 L68.81,34.86 L68.86,35.92 L68.91,36.98 L68.96,38.04 L69.01,39.10 L69.06,40.16 L69.11,41.22 L69.17,42.28 L69.22,43.34 L69.27,44.41 L69.32,45.47 L69.37,46.53 L69.42,47.59 L69.47,48.65 L69.52,49.71 L69.57,50.78 L69.61,51.84 L69.66,52.90 L69.71,53.96 L69.76,55.02 L69.82,56.09 L69.88,57.15 L69.94,58.21 L70.01,59.27 L70.08,60.32 L70.15,61.38 L70.24,62.44 L70.33,63.50 L70.43,64.56 L70.54,65.63 L70.66,66.69 L70.79,67.75 L70.93,68.81 L71.09,69.87 L71.26,70.91 L71.44,71.96 L71.64,72.99 L71.84,74.01 L72.09,75.03 L72.39,76.06 L72.73,77.08 L73.12,78.10 L73.53,79.10 L73.98,80.08 L74.45,81.03 L74.95,81.95 L75.47,82.85 L76.07,83.75 L76.74,84.63 L77.47,85.43 L78.25,86.12 L79.09,86.70 L80.05,87.27 L81.06,87.72 L82.08,87.90 L83.12,87.84 L84.19,87.68 L85.25,87.47 L86.27,87.23 L87.25,86.91 L88.22,86.49 L89.17,86.00 L90.11,85.47 L91.05,84.92 L91.98,84.38 L92.92,83.88 L93.85,83.36 L94.77,82.84 L95.69,82.30 L96.60,81.76 L97.52,81.22 L98.44,80.68 L99.36,80.16 L100.29,79.64 L101.22,79.12 L102.14,78.58 L103.07,78.04 L103.99,77.50 L104.93,76.97 L105.86,76.46 L106.80,75.97 L107.76,75.51 L108.72,75.08 L109.69,74.70 L110.68,74.35 L111.69,74.00 L112.70,73.67 L113.73,73.36 L114.76,73.08 L115.80,72.82 L116.84,72.60 L117.88,72.42 L118.92,72.26 L119.97,72.11 L121.03,71.96 L122.09,71.83 L123.15,71.71 L124.21,71.62 L125.27,71.55 L126.33,71.51 L127.39,71.50 L128.45,71.52 L129.52,71.57 L130.58,71.63 L131.64,71.71 L132.70,71.80 L133.76,71.89 L134.82,71.98 L135.87,72.08 L136.93,72.21 L137.98,72.35 L139.03,72.50 L140.08,72.67 L141.13,72.85 L142.18,73.03 L143.23,73.21 L144.27,73.38 L145.32,73.55 L146.37,73.72 L147.42,73.90 L148.47,74.08 L149.51,74.26 L150.56,74.45 L151.61,74.63 L152.65,74.81 L153.70,74.99 L154.75,75.16 L155.80,75.33 L156.85,75.49 L157.90,75.66 L158.95,75.82 L160.00,75.98 L161.05,76.14 L162.10,76.29 L163.15,76.45 L164.20,76.60" fill="none" stroke="#000" stroke-width="1.3"/>
<path d="M73.90,20.00 L74.03,21.01 L74.16,22.02 L74.28,23.03 L74.40,24.03 L74.52,25.04 L74.63,26.05 L74.73,27.07 L74.84,28.08 L74.94,29.09 L75.04,30.10 L75.14,31.11 L75.24,32.12 L75.34,33.13 L75.43,34.15 L75.53,35.16 L75.62,36.17 L75.72,37.18 L75.82,38.19 L75.91,39.21 L76.01,40.22 L76.11,41.23 L76.21,42.24 L76.32,43.25 L76.42,44.26 L76.53,45.27 L76.64,46.28 L76.74,47.30 L76.85,48.31 L76.96,49.32 L77.07,50.33 L77.17,51.34 L77.28,52.35 L77.39,53.36 L77.50,54.37 L77.62,55.38 L77.73,56.39 L77.85,57.40 L77.97,58.41 L78.09,59.42 L78.22,60.43 L78.35,61.44 L78.48,62.44 L78.62,63.45 L78.76,64.46 L78.91,65.46 L79.05,66.48 L79.19,67.50 L79.34,68.51 L79.48,69.53 L79.63,70.56 L79.79,71.57 L79.95,72.59 L80.12,73.61 L80.30,74.62 L80.48,75.62 L80.68,76.62 L80.88,77.62 L81.10,78.60 L81.33,79.58 L81.58,80.54 L81.84,81.50 L82.11,82.44 L82.43,83.38 L82.82,84.32 L83.26,85.25 L83.75,86.17 L84.27,87.07 L84.83,87.95 L85.41,88.79 L85.99,89.59 L86.62,90.36 L87.30,91.11 L88.03,91.83 L88.80,92.53 L89.60,93.19 L90.41,93.81 L91.23,94.39 L92.10,94.92 L93.00,95.40" fill="none" stroke="#b01818" stroke-width="1.15" stroke-dasharray="3.2,1.2,0.8,1.2"/>
<path d="M63.30,92.1H164.00" stroke="#000" stroke-width="1.3" stroke-dasharray="2.4,1.6"/>
</g>
<rect x="63.30" y="24.20" width="100.70" height="72.30" fill="none" stroke="#111" stroke-width="1.25"/>
<path d="M64.47,96.50v-1.90 M64.47,24.20v1.90 M69.20,96.50v-3.60 M69.20,24.20v3.60 M73.93,96.50v-1.90 M73.93,24.20v1.90 M78.67,96.50v-1.90 M78.67,24.20v1.90 M83.40,96.50v-1.90 M83.40,24.20v1.90 M88.14,96.50v-1.90 M88.14,24.20v1.90 M92.87,96.50v-3.60 M92.87,24.20v3.60 M97.60,96.50v-1.90 M97.60,24.20v1.90 M102.34,96.50v-1.90 M102.34,24.20v1.90 M107.07,96.50v-1.90 M107.07,24.20v1.90 M111.81,96.50v-1.90 M111.81,24.20v1.90 M116.54,96.50v-3.60 M116.54,24.20v3.60 M121.27,96.50v-1.90 M121.27,24.20v1.90 M126.01,96.50v-1.90 M126.01,24.20v1.90 M130.74,96.50v-1.90 M130.74,24.20v1.90 M135.48,96.50v-1.90 M135.48,24.20v1.90 M140.21,96.50v-3.60 M140.21,24.20v3.60 M144.94,96.50v-1.90 M144.94,24.20v1.90 M149.68,96.50v-1.90 M149.68,24.20v1.90 M154.41,96.50v-1.90 M154.41,24.20v1.90 M159.15,96.50v-1.90 M159.15,24.20v1.90 M63.30,91.67h1.90 M164.00,91.67h-1.90 M63.30,86.85h1.90 M164.00,86.85h-1.90 M63.30,82.03h1.90 M164.00,82.03h-1.90 M63.30,77.20h1.90 M164.00,77.20h-1.90 M63.30,72.38h3.60 M164.00,72.38h-3.60 M63.30,67.55h1.90 M164.00,67.55h-1.90 M63.30,62.72h1.90 M164.00,62.72h-1.90 M63.30,57.90h1.90 M164.00,57.90h-1.90 M63.30,53.07h1.90 M164.00,53.07h-1.90 M63.30,48.25h3.60 M164.00,48.25h-3.60 M63.30,43.42h1.90 M164.00,43.42h-1.90 M63.30,38.60h1.90 M164.00,38.60h-1.90 M63.30,33.77h1.90 M164.00,33.77h-1.90 M63.30,28.95h1.90 M164.00,28.95h-1.90" stroke="#000" stroke-width="0.8" fill="none"/>
<text x="69.40" y="109.9" font-size="9.3" text-anchor="middle">0.1</text>
<text x="93.07" y="109.9" font-size="9.3" text-anchor="middle">0.2</text>
<text x="116.74" y="109.9" font-size="9.3" text-anchor="middle">0.3</text>
<text x="140.41" y="109.9" font-size="9.3" text-anchor="middle">0.4</text>
<text x="164.08" y="109.9" font-size="9.3" text-anchor="middle">0.5</text>
<text x="165.3" y="99.65" font-size="9.3">0</text>
<text x="165.3" y="75.53" font-size="9.3">0.5</text>
<text x="165.3" y="51.40" font-size="9.3">1</text>
<text x="165.3" y="27.27" font-size="9.3">1.5</text>
<text transform="translate(184.6,61.0) rotate(-90)" font-size="9.3" text-anchor="middle">&#951;/s</text>
<text x="156.5" y="89.7" font-size="7.4" text-anchor="end">KSS bound</text>
</svg>
</body></html>
